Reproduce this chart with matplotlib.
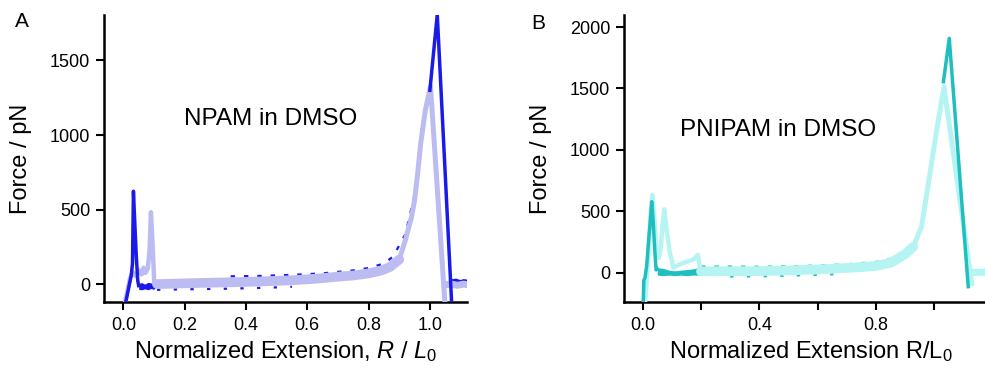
import numpy as np
import matplotlib
matplotlib.use("Agg")
import matplotlib.pyplot as plt

plt.rcParams['font.family'] = ['Liberation Sans', 'DejaVu Sans']
plt.rcParams['mathtext.fontset'] = 'custom'
plt.rcParams['mathtext.rm'] = 'Liberation Sans'
plt.rcParams['mathtext.it'] = 'Liberation Sans:italic'

# ---- Panel A: NPAM in DMSO ----
a_lt_spike_x = [0.006, 0.015, 0.022, 0.030, 0.040, 0.050, 0.060, 0.066, 0.072, 0.080, 0.086, 0.090, 0.095, 0.101, 0.110]
a_lt_spike_y = [-120, -30, 40, 80, 55, 95, 65, 110, 75, 105, 240, 482, 290, 5, 0]
a_lt_base_x = [0.11, 0.15, 0.20, 0.25, 0.30, 0.35, 0.40, 0.45, 0.50, 0.55, 0.60, 0.65, 0.70, 0.75, 0.80, 0.84, 0.87, 0.90]
a_lt_base_y = [0, 2, 5, 8, 10, 12, 15, 18, 22, 26, 32, 40, 50, 58, 72, 90, 115, 165]
a_lt_peak_x = [0.90, 0.92, 0.94, 0.95, 0.96, 0.97, 0.985, 1.002, 1.049]
a_lt_peak_y = [165, 295, 450, 563, 740, 944, 1165, 1326, -130]
a_lt_tail_x = [1.050, 1.070, 1.090, 1.110, 1.125]
a_lt_tail_y = [-5, 0, -8, 0, -5]

a_dk_spike_x = [0.008, 0.018, 0.026, 0.030, 0.033, 0.037, 0.042, 0.047, 0.050]
a_dk_spike_y = [-120, -20, 60, 140, 623, 430, 200, 25, -10]
a_dk_blk_x = [0.050, 0.060, 0.070, 0.080, 0.090, 0.100, 0.106]
a_dk_blk_lo = [-35, -38, -32, -38, -30, -35, -15]
a_dk_blk_hi = [5, 10, 0, 12, 8, 10, 0]
a_dk_low_x = [0.11, 0.20, 0.30, 0.40, 0.50, 0.55]
a_dk_low_y = [-38, -35, -32, -28, -22, -18]
a_dk_up_x = [0.35, 0.45, 0.55, 0.65, 0.75, 0.80, 0.85, 0.88, 0.92, 0.95]
a_dk_up_y = [52, 55, 62, 72, 92, 108, 138, 185, 335, 600]
a_dk_peak_x = [1.000, 1.024, 1.071]
a_dk_peak_y = [1300, 1808, -130]
a_dk_tail_x = [1.068, 1.085, 1.100, 1.110, 1.125]
a_dk_tail_y = [20, 25, 15, 22, 18]

# ---- Panel B: PNIPAM in DMSO ----
b_lt_spike_x = [0.008, 0.014, 0.020, 0.027, 0.033, 0.040, 0.048, 0.055, 0.062, 0.068, 0.074, 0.082, 0.092, 0.105,
                0.120, 0.140, 0.160, 0.175, 0.189, 0.195, 0.200]
b_lt_spike_y = [-240, -60, 150, 450, 633, 450, 150, 120, 200, 380, 516, 350, 180, 40, 60, 80, 95, 110, 144, 60, 10]
b_lt_base_x = [0.20, 0.25, 0.30, 0.35, 0.40, 0.45, 0.50, 0.55, 0.60, 0.65, 0.70, 0.75, 0.80, 0.85, 0.90, 0.928]
b_lt_base_y = [10, 12, 12, 12, 13, 15, 18, 22, 26, 32, 38, 45, 55, 80, 150, 212]
b_lt_peak_x = [0.928, 0.956, 0.985, 1.008, 1.033, 1.128]
b_lt_peak_y = [212, 374, 809, 1162, 1514, -90]
b_lt_tail_x = [1.128, 1.150, 1.180]
b_lt_tail_y = [0, 3, 0]

b_dk_spike_x = [0.002, 0.004, 0.008, 0.014, 0.020, 0.026, 0.031, 0.036, 0.041, 0.046, 0.050]
b_dk_spike_y = [-240, -60, -43, 60, 250, 420, 578, 420, 200, 22, 30]
b_dk_blk_x = [0.05, 0.07, 0.09, 0.11, 0.13, 0.15, 0.17, 0.19, 0.20]
b_dk_blk_lo = [-20, -25, -20, -25, -20, -25, -20, -20, -10]
b_dk_blk_hi = [40, 35, 20, 15, 20, 25, 30, 40, 20]
b_dk_up_x = [0.20, 0.30, 0.40, 0.50, 0.60, 0.70, 0.80, 0.85, 0.90]
b_dk_up_y = [50, 50, 48, 52, 58, 68, 88, 112, 178]
b_dk_low_x = [0.30, 0.40, 0.50, 0.60, 0.70]
b_dk_low_y = [-32, -30, -25, -18, -10]
b_dk_peak_x = [1.031, 1.051, 1.116]
b_dk_peak_y = [1555, 1908, -114]
b_dk_tail_x = [1.118, 1.150, 1.180]
b_dk_tail_y = [18, 14, 18]

a_xticks = [0.0, 0.2, 0.4, 0.6, 0.8, 1.0]
a_xlabels = ['0.0', '0.2', '0.4', '0.6', '0.8', '1.0']
a_yticks = [0, 500, 1000, 1500]
b_xticks = [0.0, 0.2, 0.4, 0.6, 0.8, 1.0]
b_xlabels = ['0.0', '', '0.4', '', '0.8', '']
b_yticks = [0, 500, 1000, 1500, 2000]

A_DARK, A_LIGHT = '#1a1aea', '#bcbcf2'
B_DARK, B_LIGHT = '#20bfbf', '#b6f4f4'

fig = plt.figure(figsize=(9.85, 3.71), dpi=100)
axA = fig.add_axes([104 / 985, 69 / 371, 363 / 985, 287 / 371])
axB = fig.add_axes([624 / 985, 69 / 371, 361 / 985, 287 / 371])


def style_axes(ax):
    for s in ['top', 'right']:
        ax.spines[s].set_visible(False)
    for s in ['left', 'bottom']:
        ax.spines[s].set_linewidth(1.8)
    ax.tick_params(direction='out', length=6, width=1.5, labelsize=13, pad=4)
    ax.tick_params(axis='x', pad=5)


def draw_panel(ax, d, dk, lt):
    # dark trace mostly hidden below the light one
    ax.fill_between(d['blk_x'], d['blk_lo'], d['blk_hi'], color=dk, lw=0, zorder=2)
    ax.plot(d['low_x'], d['low_y'], color=dk, lw=1.6, ls=(0, (1.5, 6)), zorder=2)
    ax.plot(d['up_x'], d['up_y'], color=dk, lw=1.6, ls=(0, (2, 4)), zorder=2)
    ax.plot(d['dk_tail_x'], d['dk_tail_y'], color=dk, lw=2.5, zorder=2)
    # light trace
    ax.plot(d['lt_spike_x'], d['lt_spike_y'], color=lt, lw=3.2, zorder=3)
    ax.plot(d['lt_base_x'], d['lt_base_y'], color=lt, lw=7, zorder=3, solid_capstyle='round')
    ax.plot(d['lt_peak_x'], d['lt_peak_y'], color=lt, lw=3.6, zorder=3)
    ax.plot(d['lt_tail_x'], d['lt_tail_y'], color=lt, lw=5, zorder=3)
    # dark spike and rupture peak on top
    ax.plot(d['dk_spike_x'], d['dk_spike_y'], color=dk, lw=2.5, zorder=4)
    ax.plot(d['dk_peak_x'], d['dk_peak_y'], color=dk, lw=2.5, zorder=4)


draw_panel(axA, dict(blk_x=a_dk_blk_x, blk_lo=a_dk_blk_lo, blk_hi=a_dk_blk_hi,
                     low_x=a_dk_low_x, low_y=a_dk_low_y, up_x=a_dk_up_x, up_y=a_dk_up_y,
                     dk_tail_x=a_dk_tail_x, dk_tail_y=a_dk_tail_y,
                     lt_spike_x=a_lt_spike_x, lt_spike_y=a_lt_spike_y,
                     lt_base_x=a_lt_base_x, lt_base_y=a_lt_base_y,
                     lt_peak_x=a_lt_peak_x, lt_peak_y=a_lt_peak_y,
                     lt_tail_x=a_lt_tail_x, lt_tail_y=a_lt_tail_y,
                     dk_spike_x=a_dk_spike_x, dk_spike_y=a_dk_spike_y,
                     dk_peak_x=a_dk_peak_x, dk_peak_y=a_dk_peak_y), A_DARK, A_LIGHT)
draw_panel(axB, dict(blk_x=b_dk_blk_x, blk_lo=b_dk_blk_lo, blk_hi=b_dk_blk_hi,
                     low_x=b_dk_low_x, low_y=b_dk_low_y, up_x=b_dk_up_x, up_y=b_dk_up_y,
                     dk_tail_x=b_dk_tail_x, dk_tail_y=b_dk_tail_y,
                     lt_spike_x=b_lt_spike_x, lt_spike_y=b_lt_spike_y,
                     lt_base_x=b_lt_base_x, lt_base_y=b_lt_base_y,
                     lt_peak_x=b_lt_peak_x, lt_peak_y=b_lt_peak_y,
                     lt_tail_x=b_lt_tail_x, lt_tail_y=b_lt_tail_y,
                     dk_spike_x=b_dk_spike_x, dk_spike_y=b_dk_spike_y,
                     dk_peak_x=b_dk_peak_x, dk_peak_y=b_dk_peak_y), B_DARK, B_LIGHT)

# Panel A axes
axA.set_xlim(-0.063, 1.121)
axA.set_ylim(-120, 1805)
axA.set_xticks(a_xticks)
axA.set_xticklabels(a_xlabels)
axA.set_yticks(a_yticks)
style_axes(axA)
axA.set_xlabel('Normalized Extension, $R$ / $L_0$', fontsize=17, va='top')
axA.xaxis.set_label_coords(0.5, -0.13)
axA.set_ylabel('Force / pN', fontsize=17, va='bottom')
axA.yaxis.set_label_coords(-0.198, 0.5)
axA.text(0.46, 0.638, 'NPAM in DMSO', transform=axA.transAxes, fontsize=17.5,
         ha='center', va='center')

# Panel B axes
axB.set_xlim(-0.064, 1.1735)
axB.set_ylim(-239, 2098)
axB.set_xticks(b_xticks)
axB.set_xticklabels(b_xlabels)
axB.set_yticks(b_yticks)
style_axes(axB)
axB.set_xlabel('Normalized Extension R/L$_{\\mathrm{0}}$', fontsize=17, va='top')
axB.xaxis.set_label_coords(0.519, -0.13)
axB.set_ylabel('Force / pN', fontsize=17, va='bottom')
axB.yaxis.set_label_coords(-0.2, 0.5)
axB.text(0.428, 0.599, 'PNIPAM in DMSO', transform=axB.transAxes, fontsize=17.5,
         ha='center', va='center')

fig.text(15 / 985, 1 - 12 / 371, 'A', fontsize=15, ha='left', va='top')
fig.text(531 / 985, 1 - 14 / 371, 'B', fontsize=15, ha='left', va='top')

fig.savefig('out.png', dpi=100)
